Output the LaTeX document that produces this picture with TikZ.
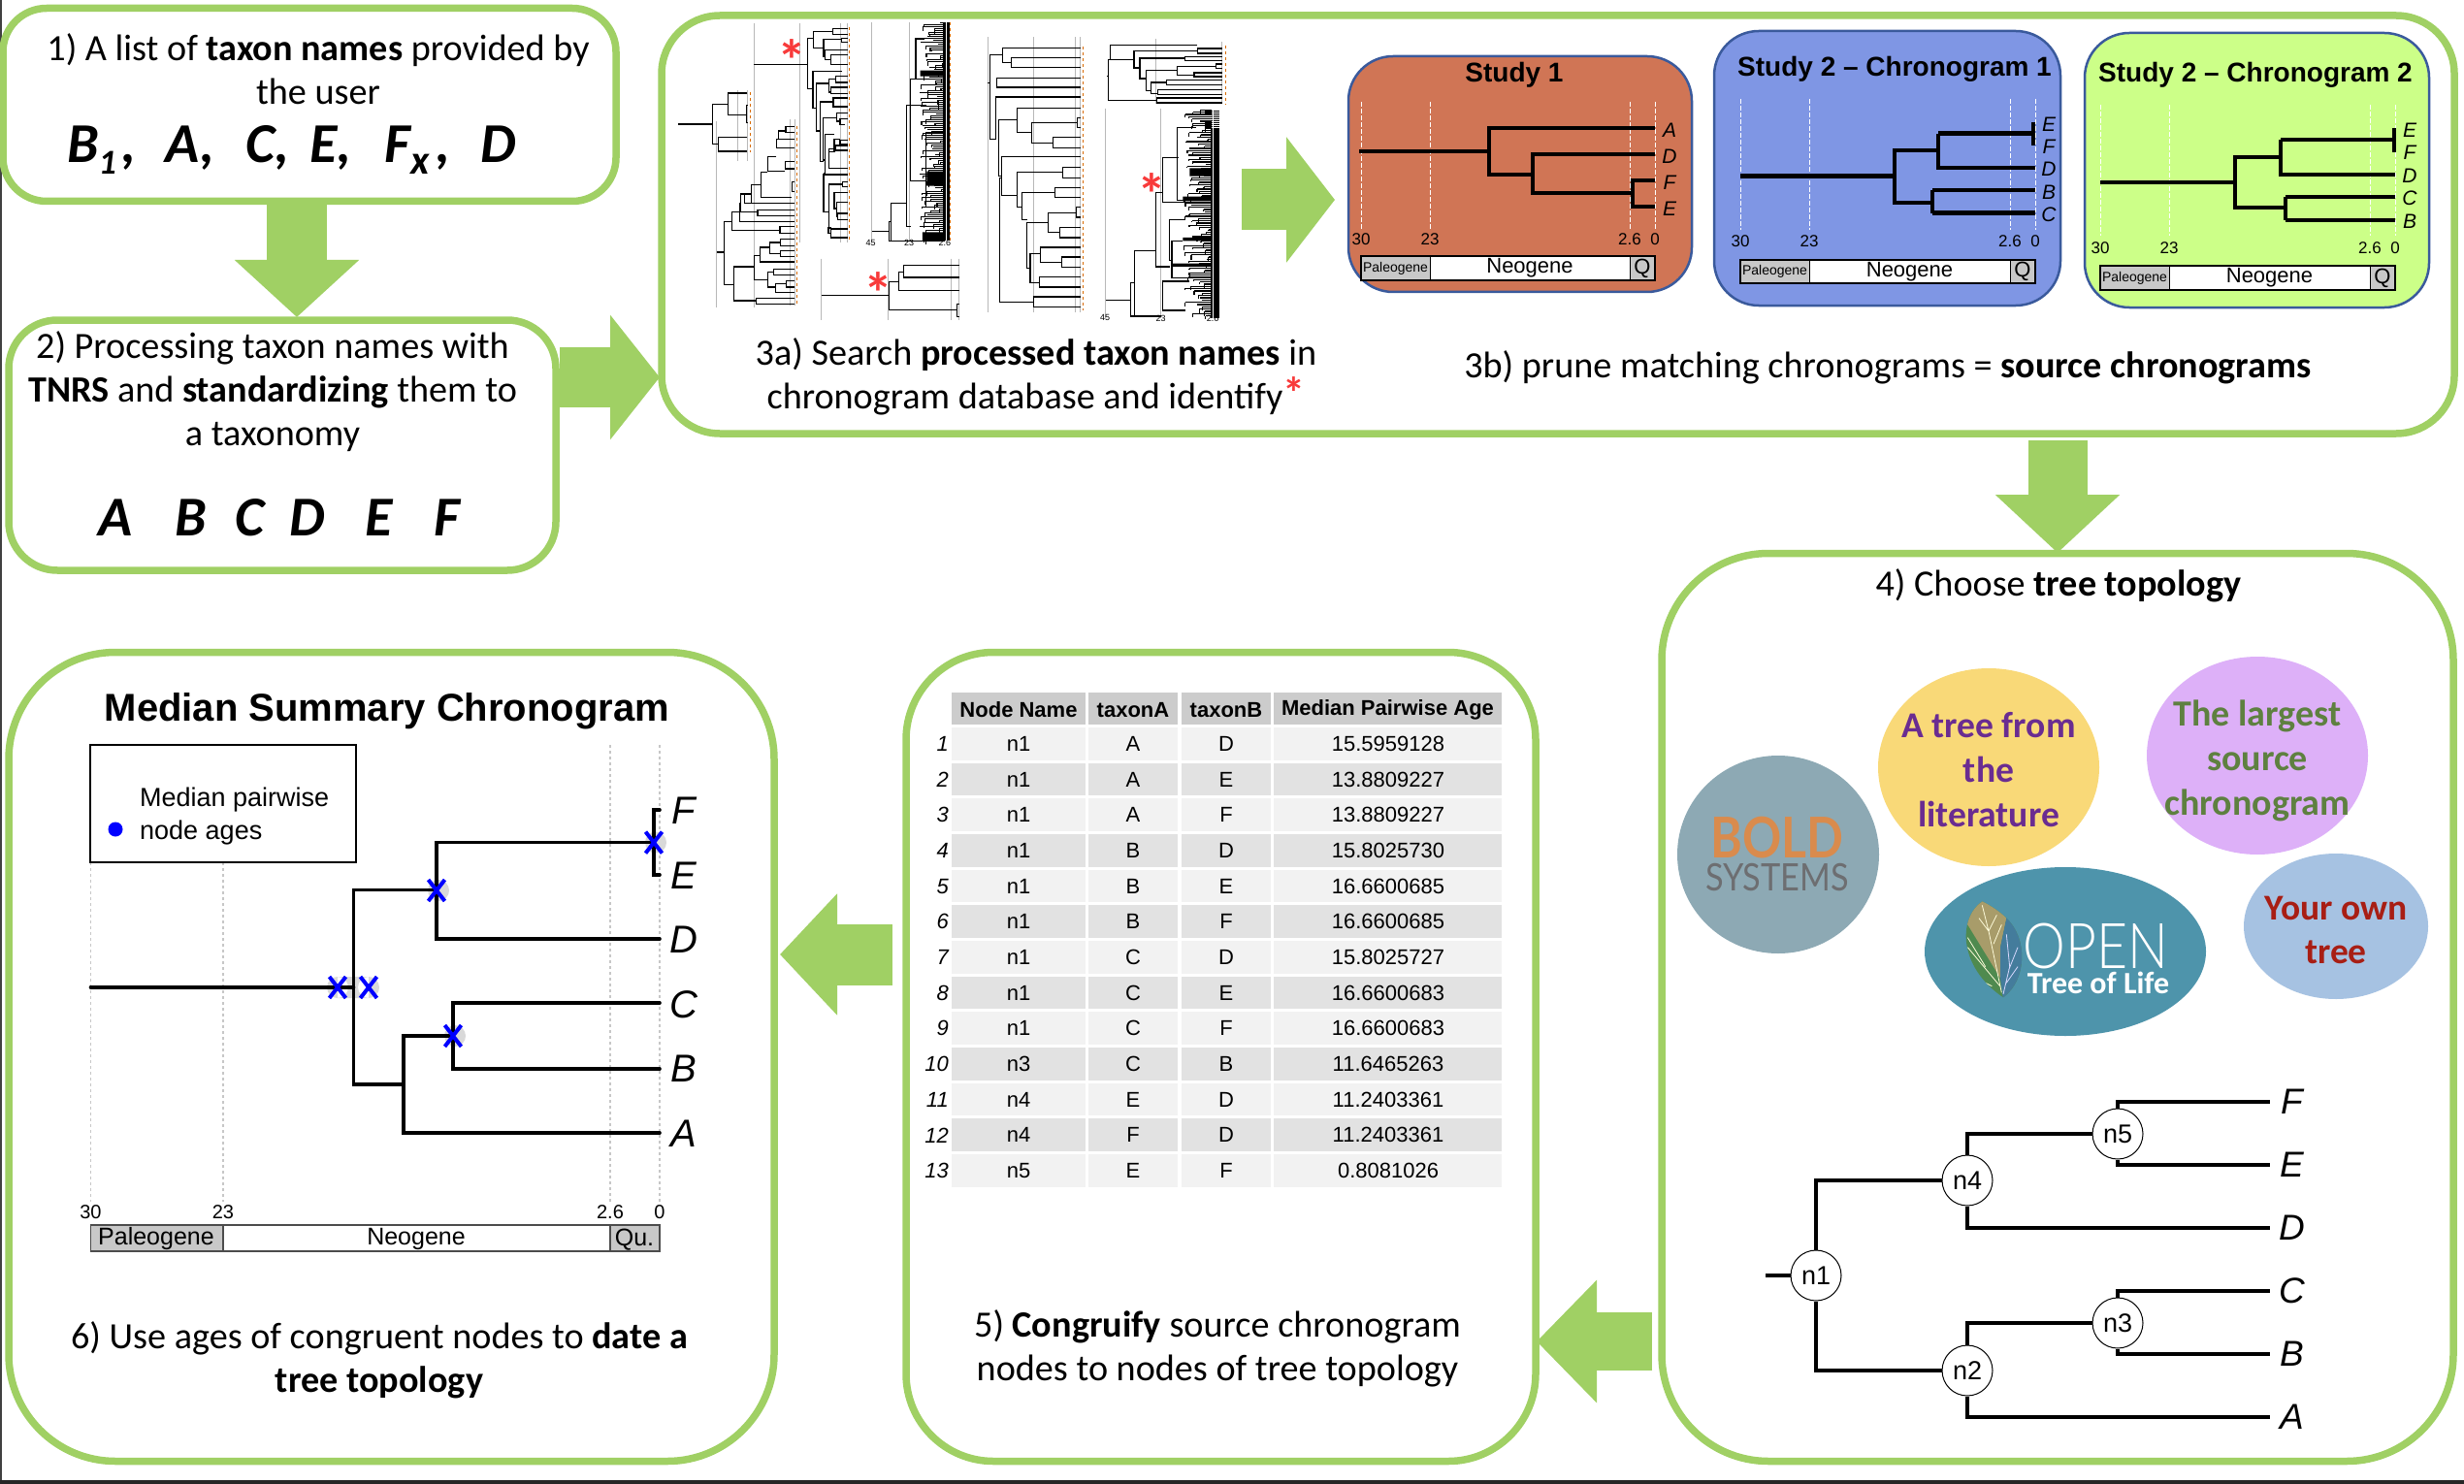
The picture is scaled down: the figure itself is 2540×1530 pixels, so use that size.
\documentclass[tikz,border=0pt]{standalone}
\usepackage{fontspec}
\usetikzlibrary{arrows.meta,shapes.geometric,calc}
\setmainfont{Carlito}
\newfontfamily\arial{Liberation Sans}
\newfontfamily\latoA[FakeStretch=.86]{Lato}
\newfontfamily\latoB[FakeStretch=.88]{Lato}
\newfontfamily\latolight[FakeStretch=.85]{Lato Light}
\newcommand\FS[2]{\fontsize{#1}{#2}\selectfont}
\definecolor{boxgreen}{HTML}{A0D064}
\definecolor{borderblue}{HTML}{3A5A9C}
\definecolor{studyA}{HTML}{D07555}
\definecolor{studyB}{HTML}{7F96E4}
\definecolor{studyC}{HTML}{CCFF88}
\definecolor{bargray}{HTML}{C8C8C8}
\definecolor{starred}{HTML}{F83A3A}
\definecolor{hdrgray}{HTML}{CCCCCC}
\definecolor{rowA}{HTML}{F2F2F2}
\definecolor{rowB}{HTML}{E2E2E2}
\definecolor{boldfill}{HTML}{8DA9B4}
\definecolor{boldorange}{HTML}{D98B4D}
\definecolor{boldgray}{HTML}{6D6E71}
\definecolor{litfill}{HTML}{F9D978}
\definecolor{litpurple}{HTML}{6A2C91}
\definecolor{srcfill}{HTML}{DDB0F8}
\definecolor{srcgreen}{HTML}{5E8040}
\definecolor{ownfill}{HTML}{A6C2E2}
\definecolor{ownred}{HTML}{A81E14}
\definecolor{openfill}{HTML}{4E94AB}
\definecolor{leafgreen}{HTML}{4F8A4F}
\definecolor{leaftan}{HTML}{A89C6A}
\definecolor{leafblue}{HTML}{447C9C}
\tikzset{
  x=1pt,y=-1pt,
  panel/.style={draw=boxgreen,line width=7.5pt,fill=white,inner sep=0,rectangle},
  study/.style={draw=borderblue,line width=2.5pt,inner sep=0,rectangle,rounded corners=46pt},
  bararrow/.style args={#1/#2/#3}{draw=boxgreen,line width=#1,-{Triangle[length=#2,width=#3]},color=boxgreen},
  body/.style={inner sep=0,align=center,font=\FS{38.2}{45}},
  sans/.style={inner sep=0,align=center,font=\arial\FS{#1}{#1}},
  tlab/.style={inner sep=0,font=\arial\itshape\FS{#1}{#1}},
  bigabc/.style={inner sep=0,font=\bfseries\itshape\FS{58}{58}},
  stree/.style={line width=3.4pt,black,line join=miter},
  thicktree/.style={line width=5pt,black},
  sgrid/.style={white,line width=.8pt,dash pattern=on 5pt off 2pt},
  dbtree/.style={line width=1.15pt,black},
  dbgray/.style={line width=1pt,color=black!28},
  dborange/.style={line width=1pt,color=orange!85!black,dash pattern=on 3pt off 3pt},
  ell/.style={ellipse,inner sep=0,draw=none},
  ntree/.style={line width=3.2pt,black},
  nnode/.style={circle,draw=black,line width=1pt,fill=white,minimum size=52pt,inner sep=0,font=\arial\FS{27}{27}},
  leaflab/.style={inner sep=0,anchor=west,minimum width=46pt,align=center,font=\arial\itshape\FS{37}{37}},
  medtree/.style={line width=3.6pt,black,line cap=round},
  medgrid/.style={color=black!22,dashed,line width=1.2pt},
  bluex/.style={blue,line width=4pt},
  cell/.style={inner sep=0,font=\arial\FS{22}{22}},
  asterisk/.style={inner sep=0,text=starred,font=\bfseries\FS{60}{60}},
  leafvein/.style={color=black!5!yellow!15!white,line width=.8pt},
  leafvein2/.style={color=blue!15!white,line width=.8pt},
}
% bracket: vertical at x from y1 to y2 with two horizontal arms
\newcommand\Brs[1]{\foreach \bx/\bya/\byb/\bxa/\bxb in {#1}{\draw[dbtree] (\bxa,\bya)-|(\bx,\byb)--(\bxb,\byb);}}
\newcommand\Axis[8]{%
  \fill[bargray] (#2,#7) rectangle (#3,#8);
  \fill[white] (#3,#7) rectangle (#4,#8);
  \fill[bargray] (#4,#7) rectangle (#5,#8);
  \draw[black,line width=1.6pt] (#2,#7) rectangle (#5,#8);
  \draw[black,line width=.7pt] (#3,#7)--(#3,#8) (#4,#7)--(#4,#8);
  \node[sans=17] (#1t30) at (#2,#6) {30};
  \node[sans=17] (#1t23) at (#3,#6) {23};
  \node[sans=17] (#1t26) at (#4,#6) {2.6};
  \node[sans=17] (#1t0) at (#5,#6) {0};
  \node[sans=14] (#1pal) at ($(#2,#7)!.5!(#3,#8)$) {Paleogene};
  \node[sans=22] (#1neo) at ($(#3,#7)!.5!(#4,#8)$) {Neogene};
  \node[sans=22] (#1q) at ($(#4,#7)!.5!(#5,#8)$) {Q};
}
\begin{document}
\begin{tikzpicture}
\useasboundingbox (0,0) rectangle (2540,1530);
\fill[white] (0,0) rectangle (2540,1530);
\fill[black!75] (0,0) rectangle (2,1530);
\fill[black!85] (0,1526) rectangle (2540,1530);

% ---- panels
\node[panel,rounded corners=45pt,minimum width=632pt,minimum height=199pt] (box1) at (319,108) {};
\node[panel,rounded corners=50pt,minimum width=564pt,minimum height=258pt] (box2) at (291,459) {};
\node[panel,rounded corners=60pt,minimum width=1848pt,minimum height=431pt] (box3) at (1606,231.5) {};
\node[panel,rounded corners=110pt,minimum width=816pt,minimum height=936pt] (box4) at (2121,1038.5) {};
\node[panel,rounded corners=90pt,minimum width=649pt,minimum height=834pt] (box5) at (1258.5,1089.5) {};
\node[panel,rounded corners=110pt,minimum width=789pt,minimum height=834pt] (box6) at (403.5,1089.5) {};

% ---- block arrows
\coordinate (a1s) at (306,209); \coordinate (a1e) at (306,327);
\coordinate (a2s) at (577,389); \coordinate (a2e) at (680,389);
\coordinate (a3s) at (1280,206); \coordinate (a3e) at (1376,206);
\coordinate (a4s) at (2121,454); \coordinate (a4e) at (2121,570);
\coordinate (a5s) at (1703,1383); \coordinate (a5e) at (1584,1383);
\coordinate (a6s) at (920,984); \coordinate (a6e) at (804,984);
\draw[bararrow=62pt/59pt/125pt] (a1s)--(a1e);
\draw[bararrow=62pt/51pt/126pt] (a2s)--(a2e);
\draw[bararrow=63pt/50pt/127pt] (a3s)--(a3e);
\draw[bararrow=61pt/60pt/125pt] (a4s)--(a4e);
\draw[bararrow=60pt/62pt/123pt] (a5s)--(a5e);
\draw[bararrow=63pt/59pt/122pt] (a6s)--(a6e);

% ---- box 1 text
\node[body] (t1) at (328,71) {1) A list of \textbf{taxon names} provided by\\the user};
\node[bigabc,anchor=base west] (t1b) at (69,168) {B\raisebox{-12pt}{\FS{36}{36}1}\hspace{6pt},\hspace{30pt}A,\hspace{32pt}C,\hspace{21pt}E,\hspace{34pt}F\raisebox{-12pt}{\FS{42}{42}x}\hspace{7pt},\hspace{31pt}D};

% ---- box 2 text
\node[body] (t2) at (281,404) {2) Processing taxon names with\\\textbf{TNRS} and \textbf{standardizing} them to\\a taxonomy};
\node[bigabc] (abcA) at (119,534) {A};
\node[bigabc] (abcB) at (197,534) {B};
\node[bigabc] (abcC) at (258,534) {C};
\node[bigabc] (abcD) at (317,534) {D};
\node[bigabc] (abcE) at (391,534) {E};
\node[bigabc] (abcF) at (461,534) {F};

% ---- box 3 text
\node[body] (t3a) at (1068,388) {3a) Search \textbf{processed taxon names} in\\chronogram database and identify\textcolor{starred}{\bfseries\FS{46}{45}*}};
\node[body] (t3b) at (1946,379) {3b) prune matching chronograms = \textbf{source chronograms}};

% ---- database of trees (coordinates of a 2.178 x 3 enlarged crop)
\begin{scope}[shift={(680,0)},x=0.4591pt,y=-0.3333pt]
\foreach \gx/\ga/\gb in {127/375/950,212/72/950,293/370/945,303/370/945,175/280/497,197/280/497,315/72/750,407/72/750,422/72/750,476/68/745,561/68/745,363/800/990,513/800/990,655/800/990,672/800/990,737/115/965,840/115/965,933/115/965,945/115/965,1114/120/322,1263/130/322,1001/335/985,1125/335/985}
  \draw[dbgray] (\gx,\ga)--(\gx,\gb);
\foreach \gx/\ga/\gb in {203/285/470,308/390/945,425/85/745,950/145/960,1270/140/322,653/68/745}
  \draw[dborange] (\gx,\ga)--(\gx,\gb);
% small tree
\draw[dbtree] (42,384)--(119,384);
\Brs{119/322/445/153/131,153/288/355/197/195,195/325/380/197/197,131/425/468/197/197}
% left tree
\draw[dbtree] (128,780)--(145,780);
\Brs{145/685/880/162/167,162/655/712/180/270,270/700/722/303/303,180/628/685/182/303,182/600/655/190/220,220/650/668/303/303,190/600/628/205/303,205/572/628/228/303,228/532/610/242/297,297/563/592/303/303,242/485/530/262/282,282/500/522/303/303,262/430/458/267/303,267/405/430/283/303,283/392/410/303/303,167/825/930/212/217,217/922/940/303/303,212/790/865/225/243,225/765/810/247/303,247/750/785/272/272,272/740/760/303/303,272/775/793/303/303,243/842/888/255/260,255/832/850/303/303,260/878/905/285/303,285/868/888/303/303}
% upper middle tree
\draw[dbtree] (212,199)--(332,199);
\Brs{332/118/275/346/344,346/98/148/389/368,389/88/106/422/422,368/122/175/408/372,408/118/130/422/422,372/155/185/422/385,385/170/200/422/422,344/220/335/410/352,352/258/405/380/360,380/245/285/395/385,395/235/255/422/422,385/270/290/422/422,360/315/500/390/367,390/303/330/422/422,367/365/495/397/372,397/350/375/422/405,405/368/385/422/415,372/415/535/392/368,392/430/470/405/380,405/433/445/422/422,380/460/520/395/422,395/450/465/422/422,368/540/655/422/380,380/570/720/410/378,410/562/578/422/422,392/595/645/422/397,397/625/670/422/400,400/660/680/422/422,378/705/722/385/385,385/708/735/422/422}
\draw[dbtree] (392,595)--(392,645);
% small lower tree
\draw[dbtree] (364,913)--(516,913);
\Brs{516/872/958/537/667,537/842/898/548/672,548/820/858/672/672,667/940/980/672/672}
% big tree
\draw[dbtree] (737,257)--(741,257);
\Brs{741/170/430/770/752,770/148/193/945/790,790/178/208/945/945,757/242/270/945/945,755/300/430/945/750,761/370/545/802/767,802/335/410/945/835,835/380/442/937/883,937/365/395/945/945,883/425/458/945/945,767/485/605/945/802,802/533/640/905/813,905/517/550/945/945,813/595/680/887/825,887/580/610/945/945,825/688/830/872/832,872/658/718/935/898,935/640/672/945/945,898/703/735/945/945,832/785/875/855/853,855/765/812/945/903,903/795/827/945/945,853/857/888/945/945,763/550/935/767/840,840/918/950/945/945}
% top right tree
\draw[dbtree] (1005,235)--(1007,235);
\Brs{1007/185/310/1011/1117,1011/140/185/1207/1065,1207/150/165/1263/1263,1065/157/210/1207/1078,1078/180/243/1180/1092,1180/175/188/1263/1263,1092/218/280/1162/1103,1162/205/232/1250/1200,1250/198/212/1263/1263,1200/225/237/1263/1263,1103/255/290/1138/1118,1138/248/262/1263/1263,1118/278/292/1263/1263,1117/303/318/1263/1263}
% dense tree 1
\draw[dbtree] (477,715)--(516,715);
\Brs{516/685/745/520/640,520/628/745/555/640,555/325/700/600/565,563/245/560/640/598,575/120/245/595/605,598/410/640/640/605}
\pgfmathsetseed{7}
\foreach \yy in {70,76,...,745}{
  \pgfmathsetmacro\xa{585+rnd*52}
  \pgfmathsetmacro\yb{\yy+rnd*16}
  \draw[dbtree] (\xa,\yy)--(640,\yy);
  \draw[dbtree] (\xa,\yy)--(\xa,\yb);
}
\fill[black] (585,218) rectangle (640,236) (600,530) rectangle (640,575) (590,718) rectangle (640,745);
\fill[black] (636,68) rectangle (652,745);
\draw[white,line width=.8pt] (644,68)--(644,745);
\node[inner sep=0,font=\arial\FS{9}{9}] (d1a) at (474,752) {45};
\node[inner sep=0,font=\arial\FS{9}{9}] (d1b) at (560,752) {23};
\node[inner sep=0,font=\arial\FS{9}{9}] (d1c) at (640,752) {2.6};
% dense tree 2
\draw[dbtree] (1002,928)--(1057,928);
\Brs{1057/875/978/1066/1125,1066/775/975/1115/1068,1115/595/825/1130/1145,1130/487/625/1165/1180,1162/395/620/1205/1180,1145/680/805/1180/1150,1150/745/860/1175/1200,1130/870/960/1190/1180}
\pgfmathsetseed{11}
\foreach \yy in {340,347,...,978}{
  \pgfmathsetmacro\xa{1178+rnd*56}
  \pgfmathsetmacro\yb{\yy+rnd*16}
  \draw[dbtree] (\xa,\yy)--(1240,\yy);
  \draw[dbtree] (\xa,\yy)--(\xa,\yb);
}
\fill[black] (1175,608) rectangle (1240,622) (1175,735) rectangle (1240,745) (1150,815) rectangle (1240,825) (1190,520) rectangle (1240,545);
\fill[black] (1238,395) rectangle (1256,985);
\foreach \yy in {345,351,...,395}{\draw[black,line width=1pt] (1225,\yy)--(1256,\yy);}
\draw[white,line width=.8pt] (1243,335)--(1243,985);
\node[inner sep=0,font=\arial\FS{9}{9}] (d2a) at (1000,983) {45};
\node[inner sep=0,font=\arial\FS{9}{9}] (d2b) at (1125,985) {23};
\node[inner sep=0,font=\arial\FS{9}{9}] (d2c) at (1242,985) {2.6};
\node[asterisk] (st1) at (297,186) {*};
\node[asterisk] (st2) at (491,906) {*};
\node[asterisk] (st3) at (1105,601) {*};
\end{scope}

% ---- Study 1
\node[study,fill=studyA,minimum width=354pt,minimum height=243pt] (s1) at (1567,179.5) {};
\node[inner sep=0,font=\arial\bfseries\FS{28}{28}] (s1t) at (1561,77) {Study 1};
\draw[sgrid] (1403,105)--(1403,237) (1474,105)--(1474,237) (1680,105)--(1680,237) (1706,105)--(1706,237);
\draw[stree] (1401,156)--(1535,156) (1706,132)-|(1535,180)-|(1580,159)--(1706,159) (1580,159)--(1580,199)--(1683,199) (1706,186)-|(1683,213)--(1706,213);
\foreach \n/\yy in {A/134,D/161,F/188,E/215} \node[tlab=21] (s1\n) at (1721,\yy) {\n};
\Axis{s1}{1403}{1474}{1680}{1706}{247}{264}{289}

% ---- Study 2 chronogram 1
\node[study,fill=studyB,minimum width=357pt,minimum height=283pt] (s2) at (1945.5,173.5) {};
\node[font=\arial\bfseries\FS{28}{28},inner sep=0] (s2t) at (1953,71) {Study 2 – Chronogram 1};
\draw[sgrid] (1794,102)--(1794,237) (1865,102)--(1865,237) (2072,102)--(2072,237) (2098,102)--(2098,237);
\draw[thicktree] (1794,182)--(1953,182);
\draw[stree] (1998,155)-|(1953,209)--(1992,209) (1998,138)--(1998,173)--(2098,173) (2096,126)--(2096,150) (1992,196)--(1992,220);
\draw[stree] (1992,196)--(2098,196);
\draw[thicktree] (1998,138)--(2096,138) (1992,220)--(2098,220);
\foreach \n/\yy in {E/128,F/151,D/174,B/198,C/221} \node[tlab=21] (s2\n) at (2112,\yy) {\n};
\Axis{s2}{1794}{1865}{2072}{2098}{249}{268}{292}

% ---- Study 2 chronogram 2
\node[study,fill=studyC,minimum width=355pt,minimum height=283pt] (s3) at (2326.5,175.5) {};
\node[font=\arial\bfseries\FS{28}{28},inner sep=0] (s3t) at (2325,77) {Study 2 – Chronogram 2};
\draw[sgrid] (2165,108)--(2165,243) (2236,108)--(2236,243) (2443,108)--(2443,243) (2469,108)--(2469,243);
\draw[stree] (2165,188)--(2304,188) (2351,162)-|(2304,214)--(2356,214) (2351,144)--(2351,180)--(2469,180) (2351,144)--(2468,144) (2468,132)--(2468,157) (2356,203)--(2356,227) (2356,203)--(2469,203) (2356,227)--(2469,227);
\foreach \n/\yy in {E/134,F/157,D/181,C/204,B/228} \node[tlab=21] (s3\n) at (2484,\yy) {\n};
\Axis{s3}{2165}{2236}{2443}{2469}{256}{274}{299}

% ---- Box 4
\node[inner sep=0,font=\FS{38.2}{38}] (t4) at (2122,604) {4) Choose \textbf{tree topology}};
\node[ell,fill=boldfill,minimum width=208pt,minimum height=204pt] (eBold) at (1833,881) {};
\node[inner sep=0,text=boldorange,font=\latoA\bfseries\FS{58}{58}] (boldA) at (1832,864) {BOLD};
\node[inner sep=0,text=boldgray,font=\latoB\FS{39}{39}] (boldB) at (1832,905) {SYSTEMS};
\node[ell,fill=litfill,minimum width=228pt,minimum height=204pt] (eLit) at (2050,791) {};
\node[inner sep=0,align=center,text=litpurple,font=\bfseries\FS{37.6}{46}] (tLit) at (2050,794) {A tree from\\the\\literature};
\node[ell,fill=srcfill,minimum width=228pt,minimum height=204pt] (eSrc) at (2327,779) {};
\node[inner sep=0,align=center,text=srcgreen,font=\bfseries\FS{38}{46}] (tSrc) at (2327,784) {The largest\\source\\chronogram};
\node[ell,fill=ownfill,minimum width=190pt,minimum height=150pt] (eOwn) at (2408,955) {};
\node[inner sep=0,align=center,text=ownred,font=\bfseries\FS{37.5}{45}] (tOwn) at (2408,959) {Your own\\tree};
\node[ell,fill=openfill,minimum width=290pt,minimum height=174pt] (eOpen) at (2129,981) {};
\node[inner sep=0,text=white,font=\latolight\FS{65}{65}] (tOpen) at (2160,975) {OPEN};
\node[inner sep=0,text=white,font=\bfseries\FS{32}{32}] (tLife) at (2163,1013) {Tree of Life};
% leaf
\begin{scope}[shift={(2000,910)},x=.3333pt,y=-.3333pt]
\begin{scope}
\clip (130,58) .. controls (55,110) and (55,260) .. (195,355) .. controls (270,300) and (270,170) .. (205,110) .. controls (185,90) and (155,70) .. (130,58) -- cycle;
\fill[leafgreen] (40,40) rectangle (290,370);
\fill[leaftan] (40,30)--(230,30)--(205,110)--(186,200)--(186,295)--(85,130)--(40,110)--cycle;
\fill[leafblue] (205,110)--(290,110)--(290,370)--(195,365)--(186,295)--(186,200)--cycle;
\draw[leafvein] (130,70)--(150,150)--(190,340) (150,150)--(120,110) (150,150)--(175,100) (165,190)--(190,130);
\draw[leafvein] (185,320)--(85,200) (140,260)--(85,170) (160,320)--(100,290);
\draw[leafvein2] (195,345)--(215,260)--(205,160) (212,270)--(240,200) (205,310)--(240,260);
\end{scope}
\end{scope}
% topology tree
\node[nnode] (n1) at (1872,1315) {n1};
\node[nnode] (n4) at (2028,1217) {n4};
\node[nnode] (n2) at (2028,1413) {n2};
\node[nnode] (n5) at (2183,1169) {n5};
\node[nnode] (n3) at (2183,1364) {n3};
\node[leaflab] (lF) at (2340,1136) {F};
\node[leaflab] (lE) at (2340,1201) {E};
\node[leaflab] (lD) at (2340,1266) {D};
\node[leaflab] (lC) at (2340,1331) {C};
\node[leaflab] (lB) at (2340,1396) {B};
\node[leaflab] (lA) at (2340,1461) {A};
\coordinate (rootstub) at (1820,1315);
\draw[ntree] (rootstub)--(n1.west);
\draw[ntree] (n1.north)|-(n4.west);
\draw[ntree] (n1.south)|-(n2.west);
\draw[ntree] (n4.north)|-(n5.west);
\draw[ntree] (n4.south)|-(lD.west);
\draw[ntree] (n2.north)|-(n3.west);
\draw[ntree] (n2.south)|-(lA.west);
\draw[ntree] (n5.north)|-(lF.west);
\draw[ntree] (n5.south)|-(lE.west);
\draw[ntree] (n3.north)|-(lC.west);
\draw[ntree] (n3.south)|-(lB.west);

% ---- Table
\foreach \cn/\ca/\cb/\lab in {hA/981/1119/Node Name,hB/1122/1214/taxonA,hC/1218/1310/taxonB,hD/1313/1548/Median Pairwise Age}{
  \fill[hdrgray] (\ca,714) rectangle (\cb,747);
  \node[inner sep=0,font=\arial\bfseries\FS{22}{22}] (\cn) at ({(\ca+\cb)/2},732) {\lab};
}
\foreach \i/\nm/\ta/\tb/\age in {1/n1/A/D/15.5959128,2/n1/A/E/13.8809227,3/n1/A/F/13.8809227,4/n1/B/D/15.8025730,5/n1/B/E/16.6600685,6/n1/B/F/16.6600685,7/n1/C/D/15.8025727,8/n1/C/E/16.6600683,9/n1/C/F/16.6600683,10/n3/C/B/11.6465263,11/n4/E/D/11.2403361,12/n4/F/D/11.2403361,13/n5/E/F/0.8081026}{
  \pgfmathsetmacro\ytop{750+(\i-1)*36.67}
  \pgfmathsetmacro\ybot{\ytop+33.5}
  \pgfmathsetmacro\ymid{\ytop+17}
  \pgfmathtruncatemacro\odd{mod(\i,2)}
  \ifnum\odd=1 \def\rc{rowA}\else\def\rc{rowB}\fi
  \fill[\rc] (981,\ytop) rectangle (1119,\ybot);
  \fill[\rc] (1122,\ytop) rectangle (1214,\ybot);
  \fill[\rc] (1218,\ytop) rectangle (1310,\ybot);
  \fill[\rc] (1313,\ytop) rectangle (1548,\ybot);
  \node[inner sep=0,anchor=east,font=\arial\itshape\FS{22}{22}] (ri\i) at (978,\ymid) {\i};
  \node[cell] (rn\i) at (1050,\ymid) {\nm};
  \node[cell] (ra\i) at (1168,\ymid) {\ta};
  \node[cell] (rb\i) at (1264,\ymid) {\tb};
  \node[cell] (rg\i) at (1431,\ymid) {\age};
}
\node[body] (t5) at (1255,1390) {5) \textbf{Congruify} source chronogram\\nodes to nodes of tree topology};

% ---- Box 6
\node[inner sep=0,font=\arial\bfseries\FS{40}{40}] (t6t) at (399,733) {Median Summary Chronogram};
\draw[medgrid] (93.5,889)--(93.5,1239) (230,889)--(230,1239) (629,768)--(629,1239) (680,768)--(680,1239);
\node[draw=black,line width=1.2pt,minimum width=274pt,minimum height=121pt,inner sep=0,fill=white] (lgd) at (230,828.5) {};
\node[inner sep=0,anchor=west,align=left,font=\arial\FS{27}{34}] (lgdt) at (144,842) {Median pairwise\\node ages};
\fill[blue] (119,855) circle (7.5);
\fill[black!15] (348,1018) circle (11) (380,1018) circle (11) (348,1007) rectangle (380,1029) (676,868.6) circle (11) (452,918) circle (11) (469,1068) circle (11);
\draw[medtree] (93.5,1018)--(364.5,1018);
\draw[medtree] (450,917.5)-|(364.5,1118)--(416,1118);
\draw[medtree] (674,868.6)-|(450,968)--(680,968);
\draw[medtree] (680,835)-|(674,902)--(680,902);
\draw[medtree] (467,1068)-|(416,1168)--(680,1168);
\draw[medtree] (680,1034)-|(467,1102)--(680,1102);
\foreach \n/\yy in {F/836,E/903,D/969,C/1036,B/1102,A/1169} \node[tlab=40] (m\n) at (705,\yy) {\n};
\foreach \cx/\cy in {674/868.6,450/918,348/1018,380/1018,467/1068}
  \draw[bluex] (\cx-8.5,\cy-11)--(\cx+8.5,\cy+11) (\cx+8.5,\cy-11)--(\cx-8.5,\cy+11);
\fill[bargray] (93.5,1263) rectangle (230,1290) (629,1263) rectangle (680,1290);
\draw[black!70,line width=1.2pt] (93.5,1263) rectangle (680,1290) (230,1263)--(230,1290) (629,1263)--(629,1290);
\node[sans=20] (mt30) at (93.5,1250) {30};
\node[sans=20] (mt23) at (230,1250) {23};
\node[sans=20] (mt26) at (629,1250) {2.6};
\node[sans=20] (mt0) at (680,1250) {0};
\node[sans=25] (mpal) at (161,1277) {Paleogene};
\node[sans=25] (mneo) at (429,1277) {Neogene};
\node[sans=25] (mqu) at (654,1278) {Qu.};
\node[body] (t6) at (391,1402) {6) Use ages of congruent nodes to \textbf{date a}\\\textbf{tree topology}};
\end{tikzpicture}
\end{document}
